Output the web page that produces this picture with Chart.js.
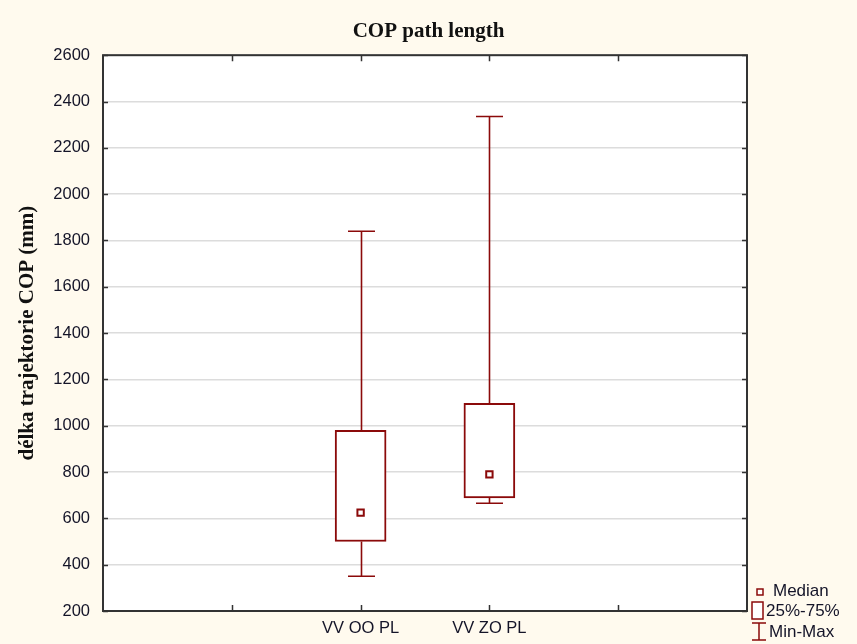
<!DOCTYPE html>
<html>
<head>
<meta charset="utf-8">
<title>COP path length</title>
<script src="https://cdn.jsdelivr.net/npm/chart.js@4/dist/chart.umd.min.js"></script>
<style>
  html, body { margin: 0; padding: 0; background: #fffaee; }
  #chart1 { display: block; }
</style>
</head>
<body>
<canvas id="chart1" width="857" height="644"></canvas>
<script>
// box plot summaries per condition
const categories = ['VV OO PL', 'VV ZO PL'];
const mins = [350, 665];
const q1s = [500, 688];
const medians = [625, 790];
const q3s = [980, 1097];
const maxs = [1840, 2335];

const yMin = 200;
const yMax = 2600;
const yStep = 200;

// empty slots either side so the two groups sit in the middle of the axis
const xSlots = ['', '', ...categories, '', ''];

const darkRed = '#8b0a0a';
const textColor = '#141428';
const sansFont = 'Liberation Sans, Arial, sans-serif';
const serifFont = 'Liberation Serif, Times New Roman, serif';

const boxPlot = {
    id: 'boxPlot',
    beforeDraw(chart) {
        const { ctx, chartArea: a } = chart;
        ctx.save();
        ctx.fillStyle = '#ffffff';
        ctx.fillRect(a.left, a.top, a.width, a.height);
        ctx.restore();
    },
    afterDatasetsDraw(chart) {
        const { ctx, scales: { y } } = chart;
        const bars = chart.getDatasetMeta(0).data;
        const capHalf = 13.5;
        ctx.save();
        ctx.strokeStyle = darkRed;
        ctx.lineWidth = 1.6;
        bars.forEach((bar, i) => {
            const x = Math.round(bar.x) + 0.5;
            const yLo = y.getPixelForValue(mins[i]);
            const yQ1 = y.getPixelForValue(q1s[i]);
            const yQ3 = y.getPixelForValue(q3s[i]);
            const yHi = y.getPixelForValue(maxs[i]);
            ctx.beginPath();
            ctx.moveTo(x, yQ3); ctx.lineTo(x, yHi);
            ctx.moveTo(x - capHalf, yHi); ctx.lineTo(x + capHalf, yHi);
            ctx.moveTo(x, yQ1); ctx.lineTo(x, yLo);
            ctx.moveTo(x - capHalf, yLo); ctx.lineTo(x + capHalf, yLo);
            ctx.stroke();
        });
        ctx.restore();
    },
    afterDraw(chart) {
        const { ctx, chartArea: a, scales: { x, y } } = chart;
        ctx.save();

        // frame
        ctx.strokeStyle = '#333333';
        ctx.lineWidth = 2;
        ctx.strokeRect(a.left, a.top, a.width, a.height);

        // inward tick marks on all four sides
        ctx.beginPath();
        y.ticks.forEach(t => {
            const py = Math.round(y.getPixelForValue(t.value)) + 0.5;
            ctx.moveTo(a.left, py); ctx.lineTo(a.left + 5, py);
            ctx.moveTo(a.right, py); ctx.lineTo(a.right - 5, py);
        });
        x.ticks.forEach((t, i) => {
            if (i === 0 || i === x.ticks.length - 1) return;
            const px = Math.round(x.getPixelForTick(i)) + 0.5;
            ctx.moveTo(px, a.bottom); ctx.lineTo(px, a.bottom - 6);
            ctx.moveTo(px, a.top); ctx.lineTo(px, a.top + 6);
        });
        ctx.lineWidth = 1.5;
        ctx.stroke();

        // legend, bottom right outside the plot
        const lx = a.right + 5;
        ctx.strokeStyle = darkRed;
        ctx.lineWidth = 1.5;
        ctx.fillStyle = '#ffffff';

        ctx.fillRect(lx + 5, a.bottom - 22, 6, 6);
        ctx.strokeRect(lx + 5, a.bottom - 22, 6, 6);

        ctx.fillRect(lx, a.bottom - 9, 11, 17);
        ctx.strokeRect(lx, a.bottom - 9, 11, 17);

        ctx.beginPath();
        ctx.moveTo(lx, a.bottom + 12); ctx.lineTo(lx + 14, a.bottom + 12);
        ctx.moveTo(lx + 7, a.bottom + 12); ctx.lineTo(lx + 7, a.bottom + 29);
        ctx.moveTo(lx, a.bottom + 29); ctx.lineTo(lx + 14, a.bottom + 29);
        ctx.stroke();

        ctx.fillStyle = textColor;
        ctx.font = '17px ' + sansFont;
        ctx.textBaseline = 'middle';
        ctx.textAlign = 'left';
        ctx.fillText('Median', lx + 21, a.bottom - 20);
        ctx.fillText('25%-75%', lx + 14, a.bottom);
        ctx.fillText('Min-Max', lx + 17, a.bottom + 21);

        ctx.restore();
    }
};

new Chart(document.getElementById('chart1'), {
    type: 'bar',
    data: {
        labels: xSlots,
        datasets: [
            {
                label: '25%-75%',
                data: categories.map((c, i) => ({ x: c, y: [q1s[i], q3s[i]] })),
                backgroundColor: '#ffffff',
                borderColor: darkRed,
                borderWidth: 2,
                borderSkipped: false,
                barThickness: 51,
                order: 2,
            },
            {
                type: 'scatter',
                label: 'Median',
                data: categories.map((c, i) => ({ x: c, y: medians[i] })),
                pointStyle: 'rect',
                pointRadius: 4.5,
                pointBorderWidth: 2,
                pointBackgroundColor: '#ffffff',
                pointBorderColor: darkRed,
                order: 1,
            },
        ],
    },
    options: {
        responsive: false,
        animation: false,
        layout: {
            padding: 0,
        },
        plugins: {
            legend: { display: false },
            tooltip: { enabled: false },
            title: {
                display: true,
                text: 'COP path length',
                color: '#111111',
                font: { family: serifFont, size: 21, weight: 'bold' },
                padding: { top: 19, bottom: 11 },
            },
        },
        scales: {
            x: {
                type: 'category',
                offset: false,
                grid: { display: false, drawTicks: false, offset: false },
                border: { display: false },
                ticks: {
                    autoSkip: false,
                    maxRotation: 0,
                    padding: 8,
                    color: textColor,
                    font: { family: sansFont, size: 16.5 },
                },
                afterFit(scale) { scale.height = 33; },
            },
            y: {
                min: yMin,
                max: yMax,
                grid: { color: '#dcdcdc', lineWidth: 1.5, drawTicks: false },
                border: { display: false },
                ticks: {
                    stepSize: yStep,
                    padding: 13,
                    color: textColor,
                    font: { family: sansFont, size: 16.5 },
                    callback: v => String(v),
                },
                title: {
                    display: true,
                    text: 'délka trajektorie COP (mm)',
                    color: '#111111',
                    font: { family: serifFont, size: 21, weight: 'bold' },
                    padding: { top: 15, bottom: 0 },
                },
                afterFit(scale) { scale.width = 103; },
            },
            // empty right-hand axis that reserves room for the legend
            y2: {
                position: 'right',
                min: yMin,
                max: yMax,
                grid: { display: false, drawTicks: false },
                border: { display: false },
                ticks: { display: false },
                afterFit(scale) { scale.width = 110; },
            },
        },
    },
    plugins: [boxPlot],
});
</script>
</body>
</html>
